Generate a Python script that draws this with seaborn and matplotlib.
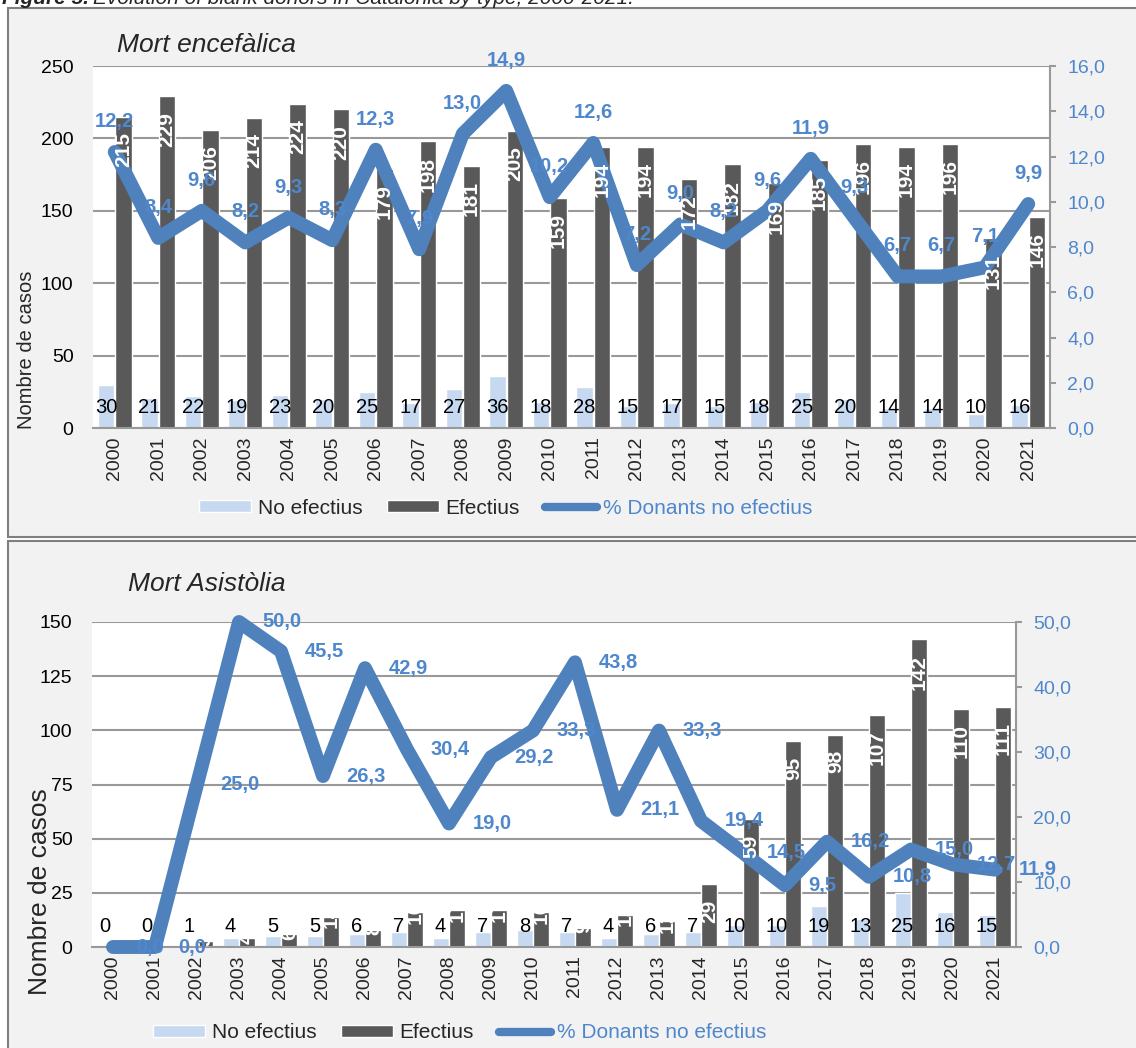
import numpy as np
import pandas as pd
import matplotlib
matplotlib.use('Agg')
import matplotlib.pyplot as plt
import seaborn as sns
from matplotlib.patches import Rectangle, Patch
from matplotlib.lines import Line2D
from matplotlib.ticker import FuncFormatter

# dades
years = [str(y) for y in range(2000, 2022)]

# Mort encefàlica
me_no = [30, 21, 22, 19, 23, 20, 25, 17, 27, 36, 18, 28, 15, 17, 15, 18, 25, 20, 14, 14, 10, 16]
me_ef = [215, 229, 206, 214, 224, 220, 179, 198, 181, 205, 159, 194, 194, 172, 182, 169, 185, 196, 194, 196, 131, 146]
me_pct = [12.2, 8.4, 9.6, 8.2, 9.3, 8.3, 12.3, 7.9, 13.0, 14.9, 10.2, 12.6, 7.2, 9.0, 8.2, 9.6, 11.9, 9.3, 6.7, 6.7, 7.1, 9.9]

# Mort asistòlia
ma_no = [0, 0, 1, 4, 5, 5, 6, 7, 4, 7, 8, 7, 4, 6, 7, 10, 10, 19, 13, 25, 16, 15]
ma_ef = [0, 0, 3, 4, 6, 14, 8, 16, 17, 17, 16, 9, 15, 12, 29, 59, 95, 98, 107, 142, 110, 111]
ma_pct = [0.0, 0.0, 25.0, 50.0, 45.5, 26.3, 42.9, 30.4, 19.0, 29.2, 33.3, 43.8, 21.1, 33.3, 19.4, 14.5, 9.5, 16.2, 10.8, 15.0, 12.7, 11.9]

series_names = ['No efectius', 'Efectius', '% Donants no efectius']

C_NO = '#c6d9f1'
C_EF = '#595959'
C_LINE = '#4f81bd'
C_TXT = '#4f87cc'
GRID = '#999999'
BG = '#f2f2f2'

W, H = 1136, 1048

sns.set_style('white')
plt.rcParams['font.family'] = ['Liberation Sans', 'DejaVu Sans']


def comma(v, pos=None):
    return f'{v:.1f}'.replace('.', ',')


def draw_panel(ax, no, ef, pct, yticks, y2ticks, pct_pos):
    df = pd.DataFrame({'any': years * 2,
                       'casos': no + ef,
                       'tipus': [series_names[0]] * len(years) + [series_names[1]] * len(years)})
    ax.set_facecolor('white')
    ax.set_axisbelow(True)
    sns.barplot(data=df, x='any', y='casos', hue='tipus', palette=[C_NO, C_EF],
                width=0.8, gap=0.05, saturation=1, errorbar=None, legend=False, ax=ax)
    ax.set_xlim(-0.5, len(years) - 0.5)
    ax.set_ylim(yticks[0], yticks[-1])
    ax.set_yticks(yticks)
    ax.set_xlabel('')
    ax.set_ylabel('')
    ax.yaxis.grid(True, color=GRID, lw=1.5)
    ax.xaxis.grid(False)
    for s in ['left', 'top', 'right']:
        ax.spines[s].set_visible(False)
    ax.spines['bottom'].set_color(GRID)
    ax.spines['bottom'].set_linewidth(1.5)
    ax.tick_params(axis='y', length=0, labelsize=14, pad=14, labelcolor='black')
    ax.set_xticks(np.arange(-0.5, len(years), 1), minor=True)
    ax.tick_params(axis='x', which='major', length=0, pad=6, labelsize=14, labelrotation=90)
    ax.tick_params(axis='x', which='minor', length=5, width=1.5, color=GRID, direction='out')

    ax2 = ax.twinx()
    sns.lineplot(x=np.arange(len(years)), y=pct, ax=ax2, color=C_LINE, lw=10,
                 solid_joinstyle='round', solid_capstyle='round', clip_on=False)
    ax2.set_xlim(-0.5, len(years) - 0.5)
    ax2.set_ylim(y2ticks[0], y2ticks[-1])
    ax2.set_yticks(y2ticks)
    ax2.yaxis.set_major_formatter(FuncFormatter(comma))
    ax2.set_ylabel('')
    ax2.grid(False)
    for s in ['left', 'top', 'bottom']:
        ax2.spines[s].set_visible(False)
    ax2.spines['right'].set_color(GRID)
    ax2.spines['right'].set_linewidth(1.5)
    ax2.tick_params(axis='y', length=4.5, width=1.5, color=GRID, direction='out',
                    labelsize=14, labelcolor=C_TXT, pad=8)

    # etiquetes de les barres (per sobre de la línia)
    for p, v in zip(ax.containers[0], no):
        cx = p.get_x() + p.get_width() / 2
        ax2.annotate(str(v), xy=(cx, 0), xycoords=ax.transData, xytext=(0, 8),
                     textcoords='offset points', ha='center', va='bottom',
                     fontsize=14.5, color='black', annotation_clip=False)
    y0 = ax.transData.transform((0, 0))[1]
    for p, v in zip(ax.containers[1], ef):
        cx = p.get_x() + p.get_width() / 2
        hpx = ax.transData.transform((0, v))[1] - y0
        if hpx > 50:
            t = ax2.annotate(str(v), xy=(cx, v), xycoords=ax.transData, xytext=(0, -11),
                             textcoords='offset points', ha='center', va='top', rotation=90,
                             fontsize=15, fontweight='bold', color='white')
        else:
            t = ax2.annotate(str(v), xy=(cx, v), xycoords=ax.transData, xytext=(0, 0),
                             textcoords='offset points', ha='center', va='center', rotation=90,
                             fontsize=15, fontweight='bold', color='white')
        t.set_clip_on(True)
        t.set_clip_path(p)

    for i, v in enumerate(pct):
        if pct_pos == 'above':
            ax2.annotate(comma(v), xy=(i, v), xytext=(0, 22), textcoords='offset points',
                         ha='center', va='center', fontsize=14.5, fontweight='bold',
                         color=C_TXT, annotation_clip=False)
        else:
            ax2.annotate(comma(v), xy=(i, v), xytext=(17, 0), textcoords='offset points',
                         ha='left', va='center', fontsize=14.5, fontweight='bold',
                         color=C_TXT, annotation_clip=False)
    return ax2


fig = plt.figure(figsize=(W / 100, H / 100), dpi=100)
fig.patch.set_facecolor('white')

# marcs dels dos panells
fig.add_artist(Rectangle((8 / W, 1 - 537 / H), 1.1, (537 - 8) / H, transform=fig.transFigure,
                         facecolor=BG, edgecolor='#7f7f7f', lw=1.5, zorder=-5))
fig.add_artist(Rectangle((8 / W, -0.1), 1.1, 0.1 + (H - 541) / H, transform=fig.transFigure,
                         facecolor=BG, edgecolor='#7f7f7f', lw=1.5, zorder=-5))

ax_top = fig.add_axes([93 / W, 1 - 428 / H, (1050 - 93) / W, (428 - 66) / H])
draw_panel(ax_top, me_no, me_ef, me_pct, list(range(0, 251, 50)),
           list(np.arange(0, 16.1, 2)), 'above')

ax_bot = fig.add_axes([92 / W, 1 - 947 / H, (1016 - 92) / W, (947 - 622) / H])
draw_panel(ax_bot, ma_no, ma_ef, ma_pct, list(range(0, 151, 25)),
           list(np.arange(0, 50.1, 10)), 'right')

# textos
fig.text(117 / W, 1 - 52 / H, 'Mort encefàlica', fontsize=19, style='italic', va='baseline')
fig.text(128 / W, 1 - 591 / H, 'Mort Asistòlia', fontsize=19, style='italic', va='baseline')
fig.text(27 / W, 1 - 350 / H, 'Nombre de casos', fontsize=14.5, rotation=90, ha='center', va='center')
fig.text(40 / W, 1 - 892 / H, 'Nombre de casos', fontsize=19, rotation=90, ha='center', va='center')

t1 = fig.text(2 / W, 1 - 4 / H, 'Figure 5.', fontsize=15, fontweight='bold', style='italic', va='baseline')
bb = t1.get_window_extent(fig.canvas.get_renderer())
fig.text((bb.x1 + 4) / W, 1 - 4 / H, 'Evolution of blank donors in Catalonia by type, 2000-2021.',
         fontsize=15, style='italic', va='baseline')

# llegendes
handles = [Patch(facecolor=C_NO, edgecolor='white', lw=1),
           Patch(facecolor=C_EF),
           Line2D([0], [0], color=C_LINE, lw=6, solid_capstyle='round')]
for cx, cy in [(506, 508), (460, 1033)]:
    leg = fig.legend(handles, series_names, loc='center', bbox_to_anchor=(cx / W, 1 - cy / H),
                     ncol=3, frameon=False, fontsize=15, handlelength=2.5, handleheight=0.45,
                     handletextpad=0.3, columnspacing=1.2)
    leg.get_texts()[2].set_color(C_TXT)

fig.savefig('out.png', dpi=100, facecolor=fig.get_facecolor())
